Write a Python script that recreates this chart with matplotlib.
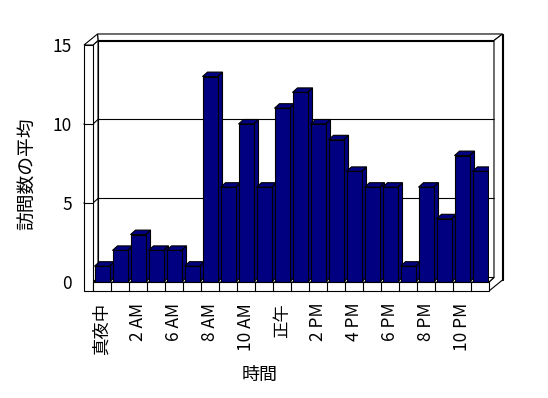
import numpy as np
from matplotlib import pyplot as plt
from matplotlib.patches import Polygon

plt.rcParams['font.family'] = ['Noto Sans CJK JP', 'DejaVu Sans']

# 時間帯ごとの訪問数の平均
hours = ["真夜中", "1 AM", "2 AM", "5 AM", "6 AM", "7 AM", "8 AM", "9 AM",
         "10 AM", "11 AM", "正午", "1 PM", "2 PM", "3 PM", "4 PM", "5 PM",
         "6 PM", "7 PM", "8 PM", "9 PM", "10 PM", "11 PM"]
visits = [1, 2, 3, 2, 2, 1, 13, 6, 10, 6, 11, 12, 10, 9, 7, 6, 6, 1, 6, 4, 8, 7]
y_ticks = [0, 5, 10, 15]

bar_color = "#000080"
n = len(hours)
ymax = 15

W, H = 548, 398
fig = plt.figure(figsize=(W / 100, H / 100), dpi=100)
# front plane of the plot: x 93..489 px, y 45..282 px
ax = fig.add_axes([93 / W, (H - 282) / H, 396 / W, 237 / H])
ax.set_xlim(0, n)
ax.set_ylim(0, ymax)

px_x = n / 396.0        # data units per pixel
px_y = ymax / 237.0
d1 = (5 * px_x, 4.5 * px_y)      # depth of bars / inner back wall
d2 = (13.5 * px_x, 11 * px_y)    # outer thickness of walls
wall_l = -9 * px_x               # left wall front-left edge
floor_b = -9 * px_y              # floor bottom edge

lw = 0.8
kw = dict(facecolor="white", edgecolor="black", lw=lw, clip_on=False)

# back wall (outer and inner faces)
ax.add_patch(Polygon([(wall_l + d2[0], floor_b + d2[1]), (n + d2[0], floor_b + d2[1]),
                      (n + d2[0], ymax + d2[1]), (wall_l + d2[0], ymax + d2[1])], zorder=1, **kw))
ax.add_patch(Polygon([(d1[0], d1[1]), (n + d1[0], d1[1]),
                      (n + d1[0], ymax + d1[1]), (d1[0], ymax + d1[1])], zorder=1.1, **kw))
# top of back wall
ax.add_patch(Polygon([(d1[0], ymax + d1[1]), (n + d1[0], ymax + d1[1]),
                      (n + d2[0], ymax + d2[1]), (wall_l + d2[0], ymax + d2[1])], zorder=1.2, **kw))
# right side of back wall/floor
ax.add_patch(Polygon([(n, 0), (n, floor_b), (n + d2[0], floor_b + d2[1]),
                      (n + d2[0], ymax + d2[1]), (n + d1[0], ymax + d1[1]),
                      (n + d1[0], d1[1])], zorder=1.2, **kw))

# gridlines on the back wall and tick marks on the left wall
for v in y_ticks[1:-1]:
    ax.plot([wall_l, 0, d1[0], n + d1[0]], [v, v, v + d1[1], v + d1[1]],
            color="black", lw=lw, zorder=1.5, clip_on=False)

# floor top
ax.add_patch(Polygon([(0, 0), (n, 0), (n + d1[0], d1[1]), (d1[0], d1[1])], zorder=1.6, **kw))

# bars with top and side faces
idx = np.arange(n)
bw = 15 * px_x
bars = ax.bar(idx + 0.5, visits, width=bw, color=bar_color, edgecolor="black", lw=lw)
for i, rect in enumerate(bars):
    v = visits[i]
    l = rect.get_x()
    r = l + bw
    z = 3 + 2 * i
    ax.add_patch(Polygon([(r, 0), (r, v), (r + d1[0], v + d1[1]), (r + d1[0], d1[1])],
                         facecolor=bar_color, edgecolor="black", lw=lw, zorder=z))
    ax.add_patch(Polygon([(l, v), (r, v), (r + d1[0], v + d1[1]), (l + d1[0], v + d1[1])],
                         facecolor=bar_color, edgecolor="black", lw=lw, zorder=z))
    rect.set_zorder(z + 1)

# left wall (front face, top face, inner face)
ax.add_patch(Polygon([(0, 0), (0, ymax), (d1[0], ymax + d1[1]), (d1[0], d1[1])], zorder=2, **kw))
for v in y_ticks[1:-1]:
    ax.plot([0, d1[0]], [v, v + d1[1]], color="black", lw=lw, zorder=2.1, clip_on=False)
ax.add_patch(Polygon([(wall_l, floor_b), (0, floor_b), (0, ymax), (wall_l, ymax)], zorder=60, **kw))
ax.add_patch(Polygon([(wall_l, ymax), (0, ymax), (d1[0], ymax + d1[1]),
                      (wall_l + d2[0], ymax + d2[1])], zorder=60, **kw))
for v in y_ticks[1:-1]:
    ax.plot([wall_l, 0], [v, v], color="black", lw=lw, zorder=61, clip_on=False)

# floor front face with category dividers
ax.add_patch(Polygon([(0, floor_b), (n, floor_b), (n, 0), (0, 0)], zorder=60, **kw))
for i in range(1, n):
    ax.plot([i, i], [floor_b, 0], color="black", lw=lw, zorder=61, clip_on=False)

for s in ax.spines.values():
    s.set_visible(False)
ax.set_yticks(y_ticks)
ax.set_yticklabels([str(t) for t in y_ticks], fontsize=12.5)
ax.tick_params(axis="y", length=0, pad=15)
ax.set_xticks(idx[::2] + 0.5)
ax.set_xticklabels(hours[::2], rotation=90, fontsize=12.5)
ax.tick_params(axis="x", length=0, pad=15)

ax.set_ylabel("訪問数の平均", fontsize=13.5)
ax.yaxis.set_label_coords(-0.139, 0.456)
ax.set_xlabel("時間", fontsize=13)
ax.xaxis.set_label_coords(0.42, -0.355)

fig.savefig("out.png", dpi=100)
